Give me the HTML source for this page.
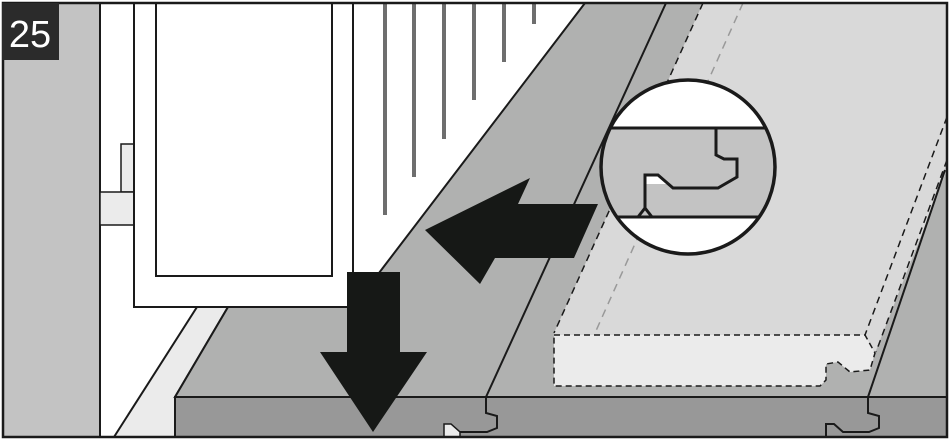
<!DOCTYPE html>
<html><head><style>body{margin:0;background:#fff}svg{display:block}</style></head><body>
<svg width="950" height="443" viewBox="0 0 950 443" xmlns="http://www.w3.org/2000/svg">
<rect x="0" y="0" width="950" height="443" fill="#fff"/>
<rect x="3" y="3" width="97" height="434" fill="#c3c3c3"/>
<line x1="100" y1="3" x2="100" y2="437" stroke="#1a1a1a" stroke-width="2"/>
<rect x="121" y="144" width="13" height="48" fill="#ebebeb" stroke="#1a1a1a" stroke-width="1.5"/>
<rect x="100" y="192" width="34" height="33" fill="#ebebeb" stroke="#1a1a1a" stroke-width="1.5"/>
<g stroke="#6e6e6e" stroke-width="4">
<line x1="385" y1="3" x2="385" y2="215"/><line x1="414" y1="3" x2="414" y2="177"/>
<line x1="444" y1="3" x2="444" y2="139"/><line x1="474" y1="3" x2="474" y2="100"/>
<line x1="504" y1="3" x2="504" y2="62"/><line x1="534" y1="3" x2="534" y2="24"/>
</g>
<polygon points="114,437 197,307 228,307 175,397 175,437" fill="#ebebeb" stroke="#1a1a1a" stroke-width="2"/>
<polygon points="175,397 228,307 353,307 585,3 947,3 947,397" fill="#b0b1b0" stroke="#1a1a1a" stroke-width="2"/>
<line x1="666" y1="3" x2="486" y2="397" stroke="#1a1a1a" stroke-width="2"/>
<!-- light board top face -->
<polygon points="703,3 947,3 947,170 875,353 865,335 554,335 554,333" fill="#d9d9d9"/>
<polygon points="554,335 865,335 875,353 870,370 850,372 838,362 826,364 826,380 820,386 554,386" fill="#ebebeb" stroke="#1a1a1a" stroke-width="1.5" stroke-dasharray="6,4"/>
<polyline points="703,3 554,333" fill="none" stroke="#1a1a1a" stroke-width="1.5" stroke-dasharray="7,5"/>
<polyline points="947,117 865,335" fill="none" stroke="#1a1a1a" stroke-width="1.5" stroke-dasharray="7,5"/>
<polyline points="947,160 876,352" fill="none" stroke="#1a1a1a" stroke-width="1.5" stroke-dasharray="7,5"/>
<line x1="743" y1="3" x2="595" y2="333" stroke="#999" stroke-width="1.5" stroke-dasharray="8,6"/>
<polygon points="947,170 868,397 947,397" fill="#b0b1b0"/>
<line x1="945" y1="170" x2="868" y2="397" stroke="#1a1a1a" stroke-width="2"/>
<rect x="175" y="397" width="772" height="40" fill="#989898" stroke="#1a1a1a" stroke-width="2"/>
<polyline points="486,397 486,413 497,416 497,428 487,432 445,432" fill="none" stroke="#1a1a1a" stroke-width="2"/>
<polygon points="444,437 444,424 451,424 460,432 460,437" fill="#ebebeb" stroke="#1a1a1a" stroke-width="1.5"/>
<polyline points="868,397 868,413 879,416 879,428 869,432 843,432 834,424 826,424 826,437" fill="none" stroke="#1a1a1a" stroke-width="2"/>
<rect x="134" y="3" width="219" height="304" fill="#fff" stroke="#1a1a1a" stroke-width="2"/>
<rect x="156" y="3" width="176" height="273" fill="#fff" stroke="#1a1a1a" stroke-width="2"/>
<polygon points="347,272 400,272 400,352 427,352 373,432 320,352 347,352" fill="#161816"/>
<polygon points="425,230 530,178 518,204 598,204 574,258 495,258 480,284" fill="#161816"/>
<defs><clipPath id="c"><circle cx="688" cy="167" r="87"/></clipPath></defs>
<g clip-path="url(#c)">
<rect x="590" y="70" width="200" height="200" fill="#fff"/>
<rect x="590" y="128" width="200" height="89" fill="#c3c3c3"/>
<line x1="590" y1="128" x2="790" y2="128" stroke="#1a1a1a" stroke-width="3"/>
<line x1="590" y1="217" x2="790" y2="217" stroke="#1a1a1a" stroke-width="3"/>
<polygon points="645,175 658,175 668,184 645,184" fill="#fff"/>
<polyline points="716,128 716,155 724,159 737,159 737,177 718,188 673,188 658,175 645,175 645,208 652,217" fill="none" stroke="#1a1a1a" stroke-width="3"/>
<polyline points="645,208 638,217" fill="none" stroke="#1a1a1a" stroke-width="3"/>
</g>
<circle cx="688" cy="167" r="87" fill="none" stroke="#1a1a1a" stroke-width="3.5"/>
<rect x="3" y="3" width="944" height="434" fill="none" stroke="#1a1a1a" stroke-width="2.5"/>
<rect x="2" y="3" width="57" height="57" fill="#2b2b2b"/>
<text x="30" y="47" font-family="Liberation Sans, sans-serif" font-size="38" fill="#fff" text-anchor="middle">25</text>
</svg>
</body></html>
